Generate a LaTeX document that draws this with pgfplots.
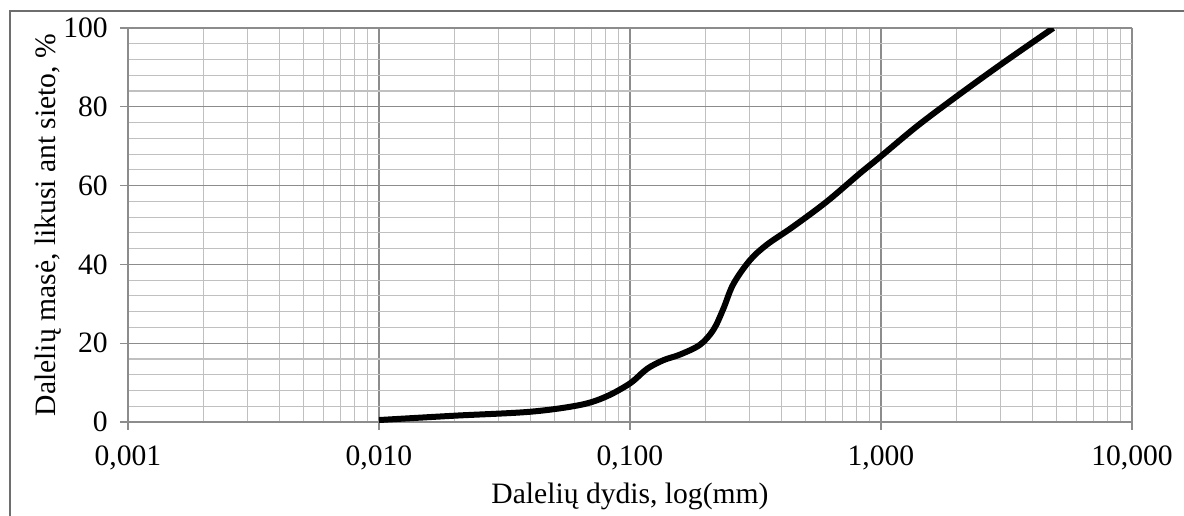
\documentclass[border=0pt]{standalone}
\usepackage{fontspec}
\setmainfont{Liberation Serif}
\usepackage{pgfplots}
\pgfplotsset{compat=1.18}

\definecolor{majgrid}{HTML}{8C8C8C}
\definecolor{mingrid}{HTML}{C0C0C0}
\definecolor{frame}{HTML}{6E6E6E}

\begin{document}
\fontsize{14.8}{17}\selectfont
\begin{tikzpicture}
  % page = the 1184x515 reference, 1 px = 0.5 pt, origin at the axis' lower left
  \path[use as bounding box] (-64pt,-46.5pt) rectangle (528pt,211pt);
  \draw[frame, line width=0.7pt] (-59pt,-60pt) -- (-59pt,205.5pt) -- (600pt,205.5pt);
  \begin{axis}[
      at={(0,0)}, anchor=south west,
      scale only axis,
      width=502pt, height=197pt,
      xmode=log,
      xmin=0.001, xmax=10,
      ymin=0, ymax=100,
      xtick={0.001,0.01,0.1,1,10},
      xticklabels={{0,001}, {0,010}, {0,100}, {1,000}, {10,000}},
      ytick={0,20,40,60,80,100},
      minor y tick num=4,
      grid=both,
      major grid style={majgrid, line width=0.65pt},
      minor grid style={mingrid, line width=0.55pt},
      axis line style={majgrid, line width=0.65pt},
      axis x line*=bottom, axis y line*=left,
      tick align=outside, tick pos=left,
      major tick length=4pt, minor tick length=0pt,
      tick style={majgrid, line width=0.65pt},
      /pgf/number format/assume math mode=true,
      xticklabel style={yshift=-3pt},
      yticklabel style={xshift=-1pt},
      xlabel={Dalelių dydis, log(mm)},
      ylabel={Dalelių masė, likusi ant sieto, \%},
      xlabel style={yshift=4pt},
      ylabel style={yshift=-9pt},
      clip=true,
    ]
    \addplot[black, line width=3pt, smooth, tension=0.55] coordinates {
      (0.010,0.5) (0.020,1.6) (0.040,2.6) (0.063,4.3) (0.080,6.4)
      (0.100,9.8) (0.117,13.5) (0.136,15.7) (0.158,17.1) (0.190,19.6)
      (0.215,23.4) (0.235,28.6) (0.258,35.0) (0.300,41.0) (0.351,45.0)
      (0.447,49.6) (0.607,55.9) (0.824,63.1) (0.993,67.3) (1.387,75.0)
      (1.940,82.0) (2.980,90.6) (4.860,100.0)
    };
  \end{axis}
\end{tikzpicture}
\end{document}
